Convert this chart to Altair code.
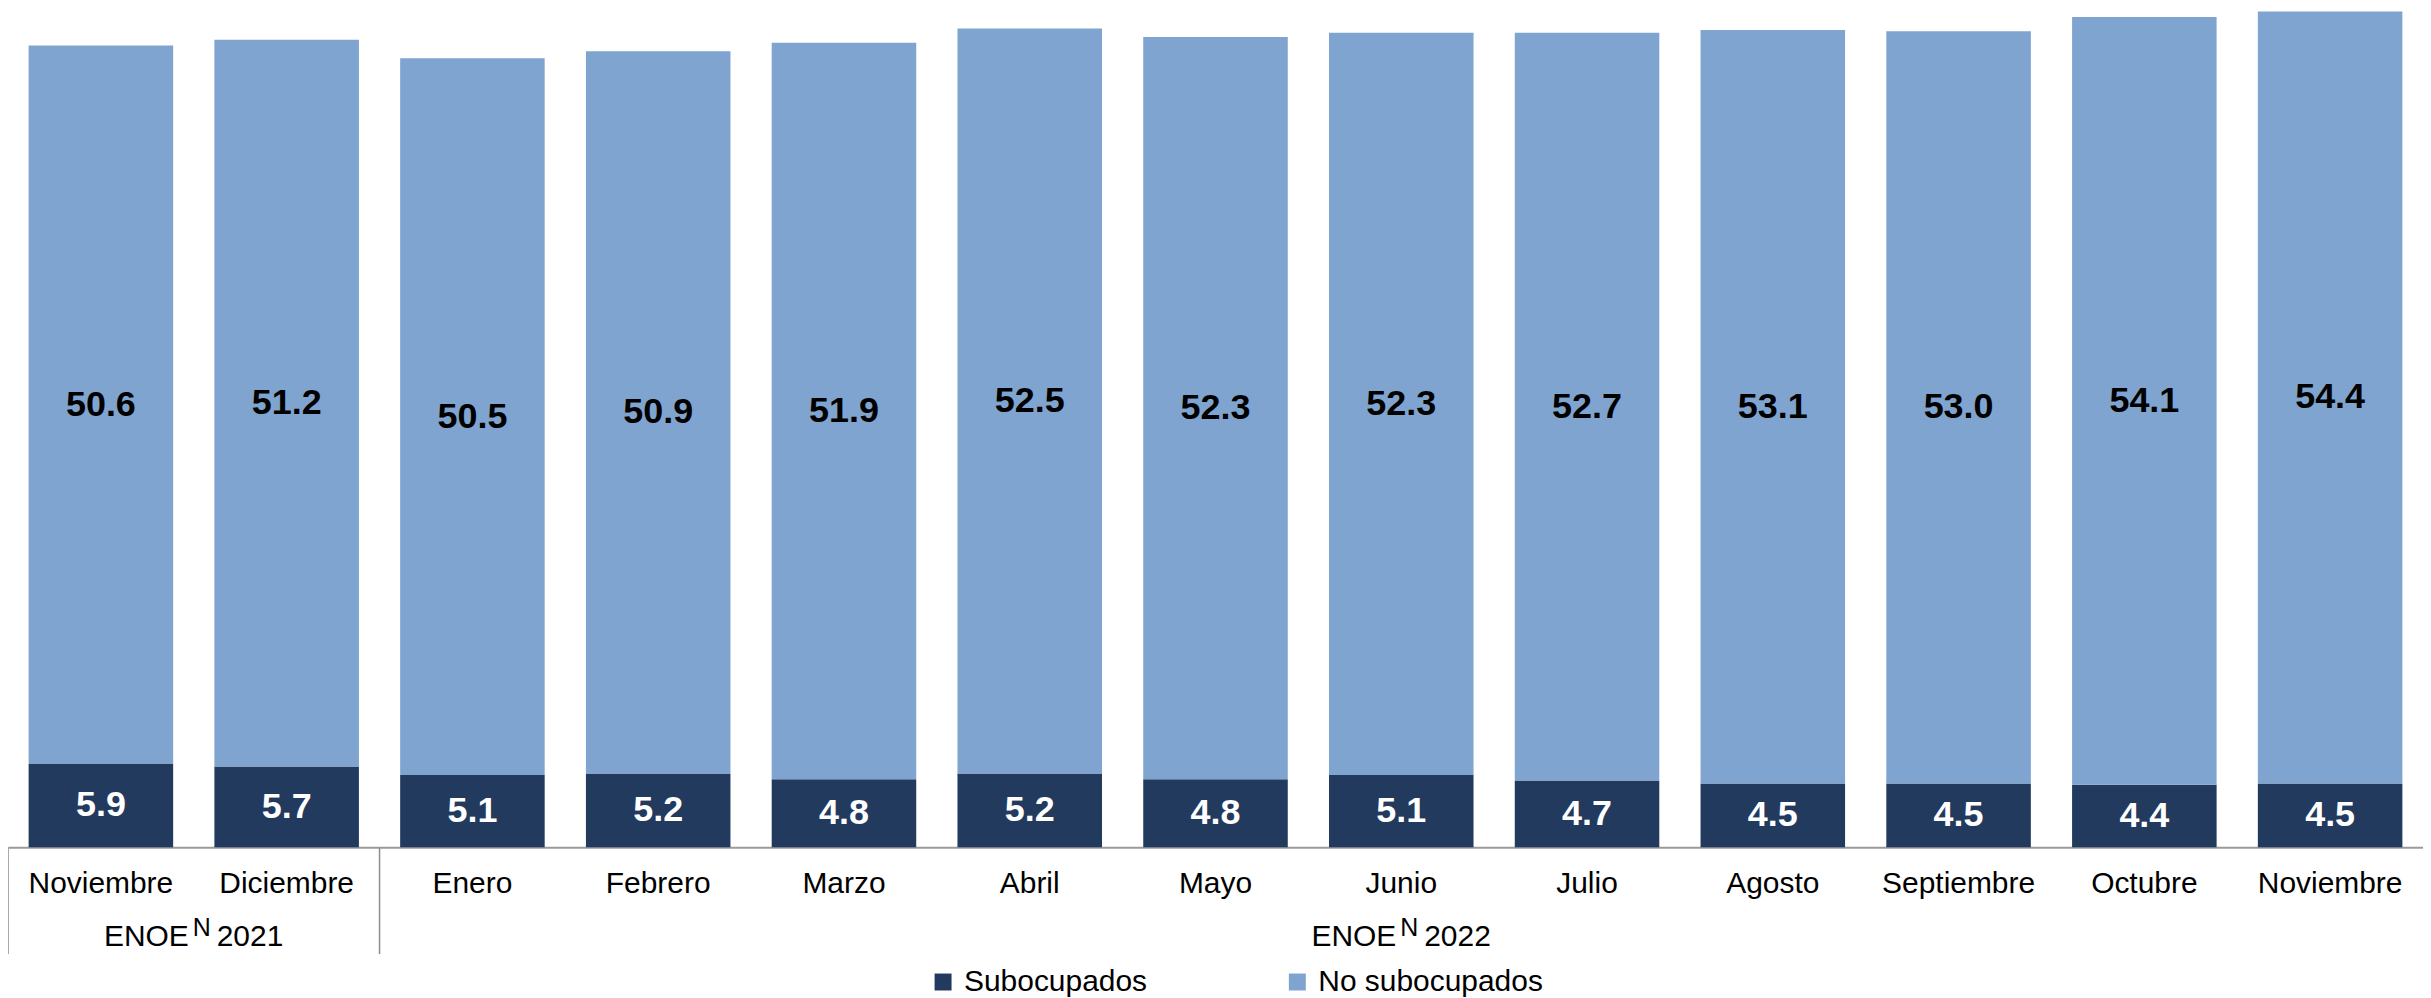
import altair as alt
import pandas as pd

# ---- data ----
meses = ["Noviembre", "Diciembre", "Enero", "Febrero", "Marzo", "Abril", "Mayo",
         "Junio", "Julio", "Agosto", "Septiembre", "Octubre", "Noviembre"]
anios = ["2021", "2021", "2022", "2022", "2022", "2022", "2022",
         "2022", "2022", "2022", "2022", "2022", "2022"]
subocupados = [5.9, 5.7, 5.1, 5.2, 4.8, 5.2, 4.8, 5.1, 4.7, 4.5, 4.5, 4.4, 4.5]
no_subocupados = [50.6, 51.2, 50.5, 50.9, 51.9, 52.5, 52.3, 52.3, 52.7, 53.1, 53.0, 54.1, 54.4]
series = ["Subocupados", "No subocupados"]
colores = ["#223a5e", "#7fa4cf"]
grupos_mes = ["Diciembre 2021", "Junio 2022"]
grupos_anio = ["2021", "2022"]
grupos_pos = [0, 0.5]
separadores = ["Noviembre 2021", "Enero 2022"]

claves = [f"{m} {a}" for m, a in zip(meses, anios)]
rows = []
for k, s, n in zip(claves, subocupados, no_subocupados):
    rows.append({"mes": k, "serie": "Subocupados", "valor": s, "orden": 0})
    rows.append({"mes": k, "serie": "No subocupados", "valor": n, "orden": 1})
df = pd.DataFrame(rows)

W, H = 2420, 840
FONT = "Liberation Sans"

xscale = alt.Scale(domain=claves, paddingInner=0, paddingOuter=0)
yscale = alt.Scale(domain=[0, 59.07], nice=False, zero=True)
xaxis = alt.Axis(title=None, labelExpr="split(datum.label, ' ')[0]", labelFont=FONT,
                 labelFontSize=30, labelColor="#000000", labelAngle=0,
                 labelBaseline="alphabetic", labelPadding=45, ticks=False, tickSize=0,
                 domainColor="#9a9a9a", domainWidth=2, grid=False, labelLimit=400)


def mkx(bp=None):
    if bp is None:
        return alt.X("mes:N", scale=xscale, axis=xaxis)
    return alt.X("mes:N", scale=xscale, axis=xaxis, bandPosition=bp)


base = alt.Chart(df).transform_stack(
    stack="valor", as_=["v0", "v1"], groupby=["mes"],
    sort=[alt.SortField("orden", order="ascending")]
).transform_calculate(mid="(datum.v0 + datum.v1) / 2")

bars = base.mark_bar(width=alt.RelativeBandSize(0.778)).encode(
    x=mkx(),
    y=alt.Y("v0:Q", scale=yscale, axis=None),
    y2="v1:Q",
    color=alt.Color("serie:N", scale=alt.Scale(domain=series, range=colores),
                    legend=alt.Legend(title=None, orient="none", legendX=922, legendY=960,
                                      direction="horizontal", symbolType="square",
                                      symbolSize=289, symbolStrokeWidth=0,
                                      labelFont=FONT, labelFontSize=30, labelColor="#000000",
                                      columnPadding=135, labelOffset=6, padding=0,
                                      labelLimit=400)),
)

labels = base.mark_text(font=FONT, fontSize=36, fontWeight="bold", baseline="middle").encode(
    x=mkx(),
    y=alt.Y("mid:Q", scale=yscale, axis=None),
    text=alt.Text("valor:Q", format=".1f"),
    color=alt.condition(alt.datum.serie == "Subocupados", alt.value("#ffffff"), alt.value("#000000")),
)

rules = alt.Chart(pd.DataFrame({"mes": separadores})).mark_rule(
    color="#8c8c8c", strokeWidth=1.5
).encode(x=mkx(0), y=alt.value(H), y2=alt.value(H + 107))

layers = [bars, labels, rules]
for m, a, bp in zip(grupos_mes, grupos_anio, grupos_pos):
    gdf = pd.DataFrame({"mes": [m]})
    layers.append(alt.Chart(gdf).mark_text(text="ENOE", font=FONT, fontSize=30, align="right",
                                           baseline="alphabetic", dx=-5, color="#000000")
                  .encode(x=mkx(bp), y=alt.value(H + 99)))
    layers.append(alt.Chart(gdf).mark_text(text="N", font=FONT, fontSize=25, align="left",
                                           baseline="alphabetic", dx=-1, color="#000000")
                  .encode(x=mkx(bp), y=alt.value(H + 89)))
    layers.append(alt.Chart(gdf).mark_text(text=a, font=FONT, fontSize=30, align="left",
                                           baseline="alphabetic", dx=23, color="#000000")
                  .encode(x=mkx(bp), y=alt.value(H + 99)))

chart = alt.layer(*layers).properties(
    width=W, height=H,
    padding={"left": 0, "top": 0, "right": 0, "bottom": 150},
    autosize=alt.AutoSizeParams(type="none"),
    background="#ffffff",
).configure_view(stroke=None)

chart.save("out.html", embed_options={"renderer": "svg", "actions": False})
